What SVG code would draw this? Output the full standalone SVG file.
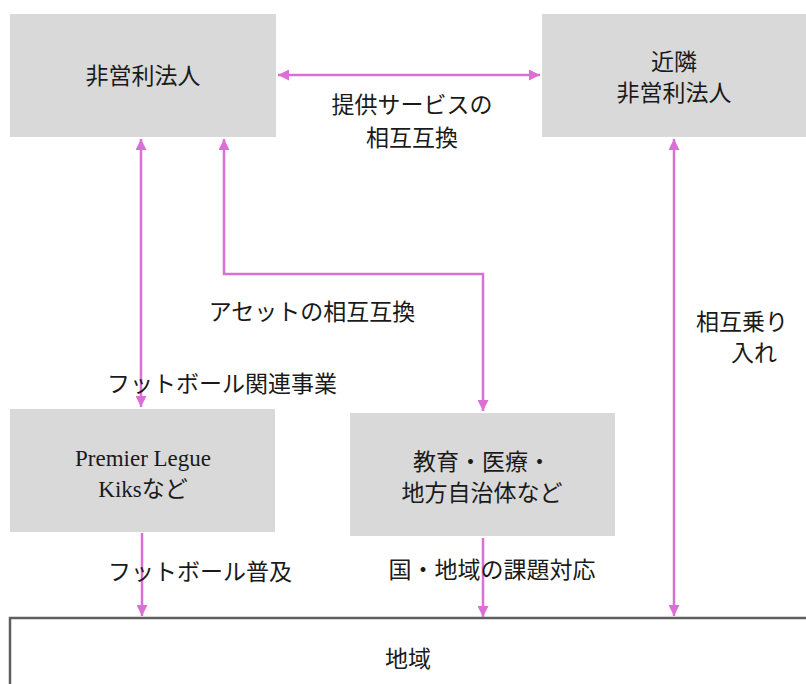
<svg xmlns="http://www.w3.org/2000/svg" width="806" height="684" viewBox="0 0 806 684">
<defs>
<marker id="ah" viewBox="0 0 10 10" refX="10" refY="5" markerWidth="4.4" markerHeight="4.4" orient="auto-start-reverse" markerUnits="strokeWidth">
<path d="M0,0 L10,5 L0,10 z" fill="#da6fd6"/>
</marker>
<style>
.box{fill:#d9d9d9;}
.t{font-family:"Liberation Serif","Noto Sans CJK JP",serif;font-size:23px;fill:#1a1a1a;text-anchor:middle;}
.c{fill:none;stroke:#da6fd6;stroke-width:2.5;}
</style>
</defs>
<rect width="806" height="684" fill="#ffffff"/>
<g id="npo">
<rect class="box" x="10" y="14" width="266" height="123"/>
<text class="t" x="143" y="84">非営利法人</text>
</g>
<g id="neighbor">
<rect class="box" x="542" y="14" width="264" height="123"/>
<text class="t" x="674" y="70">近隣</text>
<text class="t" x="674" y="101">非営利法人</text>
</g>
<g id="premier">
<rect class="box" x="10" y="409" width="265" height="123"/>
<text class="t" x="143" y="466">Premier Legue</text>
<text class="t" x="143" y="497">Kiksなど</text>
</g>
<g id="edu">
<rect class="box" x="350" y="413" width="265" height="123"/>
<text class="t" x="482" y="470">教育・医療・</text>
<text class="t" x="482" y="501">地方自治体など</text>
</g>
<g id="region">
<rect x="10" y="618" width="800" height="80" fill="#ffffff" stroke="#5f5f5f" stroke-width="2.5"/>
<text class="t" x="408" y="667">地域</text>
</g>
<g id="connectors">
<line class="c" x1="278" y1="75" x2="540" y2="75" marker-start="url(#ah)" marker-end="url(#ah)"/>
<line class="c" x1="141" y1="139" x2="141" y2="407" marker-start="url(#ah)" marker-end="url(#ah)"/>
<polyline class="c" points="224,139 224,274 483,274 483,411" marker-start="url(#ah)" marker-end="url(#ah)"/>
<line class="c" x1="674" y1="139" x2="674" y2="616" marker-start="url(#ah)" marker-end="url(#ah)"/>
<line class="c" x1="142" y1="533" x2="142" y2="616" marker-end="url(#ah)"/>
<line class="c" x1="483" y1="538" x2="483" y2="617" marker-end="url(#ah)"/>
</g>
<g id="labels">
<text class="t" x="412" y="113">提供サービスの</text>
<text class="t" x="412" y="146">相互互換</text>
<text class="t" x="312" y="320">アセットの相互互換</text>
<text class="t" x="222" y="392">フットボール関連事業</text>
<text class="t" x="200" y="580">フットボール普及</text>
<text class="t" x="492" y="578">国・地域の課題対応</text>
<text class="t" x="742" y="330">相互乗り</text>
<text class="t" x="754" y="361">入れ</text>
</g>
</svg>
